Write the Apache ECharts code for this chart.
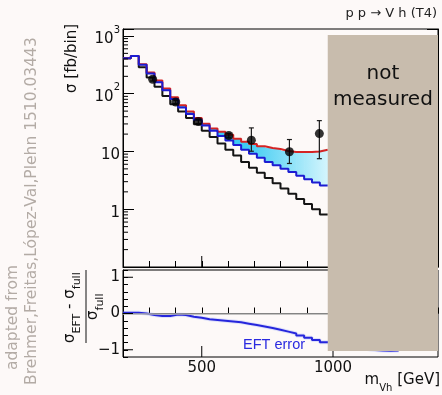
<!DOCTYPE html>
<html>
<head>
<meta charset="utf-8">
<script src="https://cdn.jsdelivr.net/npm/echarts@6/dist/echarts.min.js"></script>
<style>
  html, body { margin: 0; padding: 0; background: #fdf9f8; }
  #chart { width: 442px; height: 395px; }
</style>
</head>
<body>
<div id="chart"></div>
<script>
// bin edges of the upper histograms (GeV)
const binEdges = [200, 230, 260, 290, 320, 350, 380, 410, 440, 470, 500, 530, 560, 590, 620,
  650, 680, 710, 740, 770, 800, 830, 860, 890, 920, 950, 980];
// sigma per bin [fb/bin]
const fullVals = [413, 452, 316, 224, 158, 115, 81, 57.5, 44.7, 35.5, 28.2, 22.9, 18.6, 15.5,
  12.9, 10.7, 9.1, 7.8, 6.6, 5.75, 5.0, 4.4, 3.8, 3.3, 2.9, 2.57];
const upperVals = [413, 452, 324, 234, 170, 123, 87, 63, 49, 38, 30.2, 25.1, 21.9, 19.5,
  16.6, 14.8, 13.5, 12.3, 11.5, 11.0, 10.2, 9.8, 9.8, 9.8, 10.0, 10.7];
const eftVals = [413, 452, 288, 190, 132, 91, 66, 49, 38, 29.5, 22.9, 17.8, 13.8, 10.7,
  8.5, 6.6, 5.25, 4.27, 3.47, 2.82, 2.29, 1.86, 1.51, 1.23, 1.0, 0.81];

// measured points
const dataX = [313, 401, 487, 603, 689, 834, 948];
const dataY = [178, 72, 33, 18.9, 15.7, 9.9, 20.4];
const dataLo = [166, 67, 30.5, 17.2, 10.1, 6.2, 7.5];
const dataHi = [191, 77, 35.5, 20.6, 25.6, 16.1, 34.2];

// ratio panel
const ratioEdges = [200, 230, 260, 290, 320, 350, 380, 410, 440, 470, 500, 530, 560, 590, 620,
  650, 680, 710, 740, 770, 800, 830, 860, 890, 920, 950, 980, 1010, 1040, 1070, 1100, 1130,
  1160, 1190, 1220, 1250];
const ratioVals = [0.02, 0.02, 0.0, -0.04, -0.07, -0.07, -0.03, -0.04, -0.09, -0.12,
  -0.16, -0.18, -0.20, -0.22, -0.24, -0.28, -0.32, -0.36, -0.40, -0.45,
  -0.50, -0.55, -0.61, -0.67, -0.73, -0.79, -0.84, -0.88, -0.92, -0.95,
  -0.98, -1.01, -1.02, -1.03, -1.02];

const xTickLabels = [500, 1000];
const ratioTickLabels = [-1, 0, 1];
const notMeasuredFrom = 980;

const FONT = 'DejaVu Sans';
const bandStops = [
  { offset: 0, color: '#2fbfe9' },
  { offset: 0.6, color: '#3ecbf2' },
  { offset: 0.82, color: '#8ee2f8' },
  { offset: 1, color: '#d4f5fd' }
];

function stepPoints(edges, vals) {
  const pts = vals.map((v, i) => [edges[i], v]);
  pts.push([edges[vals.length], vals[vals.length - 1]]);
  return pts;
}

// log minor ticks 2..9 x 10^n
const minorTicks = [];
[0.1, 1, 10, 100].forEach(d => {
  for (let k = 2; k <= 9; k++) minorTicks.push(k * d);
});

// short tick marks drawn through the axes (dx, dy = direction and length)
function tickSeries(name, xi, yi, points, dx, dy) {
  return {
    name: name, type: 'custom', xAxisIndex: xi, yAxisIndex: yi, z: 8, silent: true,
    encode: { x: 0, y: 1 },
    data: points,
    renderItem: (params, api) => {
      const p = api.coord([api.value(0), api.value(1)]);
      return { type: 'line', shape: { x1: p[0], y1: p[1], x2: p[0] + dx, y2: p[1] + dy }, style: { stroke: '#000', lineWidth: 1 } };
    }
  };
}

const chart = echarts.init(document.getElementById('chart'));

const option = {
  animation: false,
  backgroundColor: '#fdf9f8',
  grid: [
    { left: 123, top: 29, width: 315, height: 238, show: true, borderColor: '#000', borderWidth: 1 },
    { left: 123, top: 270, width: 315, height: 87, show: true, borderColor: '#000', borderWidth: 1 }
  ],
  xAxis: [
    {
      gridIndex: 0, type: 'value', min: 200, max: 1400, interval: 100,
      axisLine: { lineStyle: { color: '#000' } },
      axisTick: { inside: true, length: 6, lineStyle: { color: '#000' } },
      axisLabel: { show: false },
      splitLine: { show: false }
    },
    {
      gridIndex: 1, type: 'value', min: 200, max: 1400, interval: 100,
      axisLine: { lineStyle: { color: '#000' } },
      axisTick: { inside: true, length: 6, lineStyle: { color: '#000' } },
      axisLabel: {
        margin: 4, fontFamily: FONT, fontSize: 15, color: '#111',
        formatter: v => (xTickLabels.indexOf(Math.round(v)) >= 0 ? String(Math.round(v)) : '')
      },
      splitLine: { show: false }
    }
  ],
  yAxis: [
    {
      gridIndex: 0, type: 'log', logBase: 10, min: 0.1, max: 1320,
      axisLine: { lineStyle: { color: '#000' } },
      axisTick: { inside: true, length: 11, lineStyle: { color: '#000' } },
      splitLine: { show: false },
      axisLabel: {
        margin: 3, color: '#111',
        formatter: v => {
          const e = Math.log10(v);
          const n = Math.round(e);
          if (Math.abs(e - n) > 1e-6 || n < 0) return '';
          if (n === 0) return '{b|1}';
          if (n === 1) return '{b|10}';
          return '{b|10}{sup|' + n + '}';
        },
        rich: {
          b: { fontFamily: FONT, fontSize: 15, color: '#111', lineHeight: 22, verticalAlign: 'bottom' },
          sup: { fontFamily: FONT, fontSize: 10, color: '#111', lineHeight: 14, verticalAlign: 'top' }
        }
      }
    },
    {
      gridIndex: 0, type: 'log', logBase: 10, min: 0.1, max: 1320, position: 'right',
      axisLine: { lineStyle: { color: '#000' } },
      axisTick: { inside: true, length: 11, lineStyle: { color: '#000' } },
      axisLabel: { show: false },
      splitLine: { show: false }
    },
    {
      gridIndex: 1, type: 'value', min: -1.2, max: 1.2, interval: 0.2,
      axisLine: { lineStyle: { color: '#000' } },
      axisTick: { inside: true, length: 5, lineStyle: { color: '#000' } },
      splitLine: { show: false },
      axisLabel: {
        margin: 3, fontFamily: FONT, fontSize: 15, color: '#111',
        formatter: v => {
          const n = Math.round(v);
          if (Math.abs(v - n) > 1e-6 || ratioTickLabels.indexOf(n) < 0) return '';
          return n < 0 ? '\u2212' + Math.abs(n) : String(n);
        }
      }
    }
  ],
  series: [
    {
      name: 'band', type: 'custom', xAxisIndex: 0, yAxisIndex: 0, z: 1, silent: true,
      encode: { x: [0, 1], y: [2, 3] },
      data: fullVals.map((v, i) => [binEdges[i], binEdges[i + 1], v, upperVals[i]]),
      renderItem: (params, api) => {
        const lo = api.coord([api.value(0), api.value(2)]);
        const hi = api.coord([api.value(1), api.value(3)]);
        const g0 = api.coord([binEdges[0], 1])[0];
        const g1 = api.coord([binEdges[binEdges.length - 1], 1])[0];
        return {
          type: 'rect',
          shape: { x: lo[0], y: hi[1], width: hi[0] - lo[0] + 0.6, height: lo[1] - hi[1] },
          style: { fill: new echarts.graphic.LinearGradient(g0, 0, g1, 0, bandStops, true) }
        };
      }
    },
    {
      name: 'EFT', type: 'line', xAxisIndex: 0, yAxisIndex: 0, step: 'end', symbol: 'none',
      lineStyle: { color: '#141414', width: 2 }, z: 2,
      data: stepPoints(binEdges, eftVals)
    },
    {
      name: 'upper', type: 'line', xAxisIndex: 0, yAxisIndex: 0, step: 'end', symbol: 'none',
      lineStyle: { color: '#d42424', width: 2 }, z: 3,
      data: stepPoints(binEdges, upperVals)
    },
    {
      name: 'full', type: 'line', xAxisIndex: 0, yAxisIndex: 0, step: 'end', symbol: 'none',
      lineStyle: { color: '#1c1cd2', width: 2 }, z: 4,
      data: stepPoints(binEdges, fullVals)
    },
    {
      name: 'errors', type: 'custom', xAxisIndex: 0, yAxisIndex: 0, z: 6, silent: true,
      encode: { x: 0, y: [1, 2] },
      data: dataX.map((x, i) => [x, dataLo[i], dataHi[i]]),
      renderItem: (params, api) => {
        const x = api.value(0);
        const lo = api.coord([x, api.value(1)]);
        const hi = api.coord([x, api.value(2)]);
        const w = 2.5;
        const st = { stroke: '#1a1a1a', lineWidth: 1.2 };
        return {
          type: 'group', children: [
            { type: 'line', shape: { x1: lo[0], y1: lo[1], x2: hi[0], y2: hi[1] }, style: st },
            { type: 'line', shape: { x1: lo[0] - w, y1: lo[1], x2: lo[0] + w, y2: lo[1] }, style: st },
            { type: 'line', shape: { x1: hi[0] - w, y1: hi[1], x2: hi[0] + w, y2: hi[1] }, style: st }
          ]
        };
      }
    },
    {
      name: 'data', type: 'scatter', xAxisIndex: 0, yAxisIndex: 0, z: 7,
      symbol: 'circle', symbolSize: 9, itemStyle: { color: '#000' },
      data: dataX.map((x, i) => [x, dataY[i]])
    },
    tickSeries('minorTicks', 0, 0, minorTicks.map(v => [200, v]), 5, 0),
    tickSeries('majorXMain', 0, 0, xTickLabels.map(v => [v, 0.1]), 0, -11),
    tickSeries('majorXRatio', 1, 2, xTickLabels.map(v => [v, -1.2]), 0, -11),
    tickSeries('majorYRatio', 1, 2, ratioTickLabels.map(v => [200, v]), 10, 0),
    {
      name: 'ratioBand', type: 'line', xAxisIndex: 1, yAxisIndex: 2, step: 'end', symbol: 'none',
      lineStyle: { color: 'rgba(120,140,255,0.22)', width: 4 }, z: 2, silent: true,
      data: stepPoints(ratioEdges, ratioVals),
      markLine: {
        silent: true, symbol: ['none', 'none'], label: { show: false },
        lineStyle: { color: '#b0b0b0', width: 1.5, type: 'solid' },
        data: [{ yAxis: 0 }]
      }
    },
    {
      name: 'ratio', type: 'line', xAxisIndex: 1, yAxisIndex: 2, step: 'end', symbol: 'none',
      lineStyle: { color: '#2626dc', width: 2 }, z: 3,
      data: stepPoints(ratioEdges, ratioVals)
    }
  ]
};

chart.setOption(option);

const boxLeft = chart.convertToPixel({ xAxisIndex: 0 }, notMeasuredFrom);
const boxRight = 438;
const boxTop = 35;
const boxBottom = 351;

const richSub = {
  s: { fontFamily: FONT, fontSize: 15, fill: '#111', lineHeight: 20, verticalAlign: 'top' },
  sub: { fontFamily: FONT, fontSize: 11, fill: '#111', lineHeight: 12, verticalAlign: 'bottom' }
};

chart.setOption({
  graphic: [
    {
      id: 'proc', type: 'text', x: 437, y: 14, z: 20,
      style: { text: 'p p \u2192 V h (T4)', font: '13px "DejaVu Sans"', fill: '#222', align: 'right', verticalAlign: 'middle' }
    },
    {
      id: 'ytitle', type: 'text', x: 72, y: 93, rotation: Math.PI / 2, z: 20,
      style: { text: '\u03c3 [fb/bin]', font: '15px "DejaVu Sans"', fill: '#111', align: 'left', verticalAlign: 'middle' }
    },
    {
      id: 'num', type: 'text', x: 73, y: 343, rotation: Math.PI / 2, z: 20,
      style: { text: '{s|\u03c3}{sub|EFT}{s| - \u03c3}{sub|full}', align: 'left', verticalAlign: 'middle', rich: richSub }
    },
    {
      id: 'bar', type: 'line', z: 20,
      shape: { x1: 86, y1: 270, x2: 86, y2: 343 }, style: { stroke: '#111', lineWidth: 1 }
    },
    {
      id: 'den', type: 'text', x: 96, y: 320, rotation: Math.PI / 2, z: 20,
      style: { text: '{s|\u03c3}{sub|full}', align: 'left', verticalAlign: 'middle', rich: richSub }
    },
    {
      id: 'credit1', type: 'text', x: 13, y: 370, rotation: Math.PI / 2, z: 20,
      style: { text: 'adapted from', font: '15.5px "DejaVu Sans"', fill: '#b3aba5', align: 'left', verticalAlign: 'middle' }
    },
    {
      id: 'credit2', type: 'text', x: 32, y: 385, rotation: Math.PI / 2, z: 20,
      style: { text: 'Brehmer,Freitas,L\u00f3pez-Val,Plehn 1510.03443', font: '15.5px "DejaVu Sans"', fill: '#b3aba5', align: 'left', verticalAlign: 'middle' }
    },
    {
      id: 'xtitle', type: 'text', x: 440, y: 383, z: 20,
      style: {
        text: '{s|m}{sub|Vh}{s| [GeV]}', align: 'right', verticalAlign: 'middle',
        rich: {
          s: { fontFamily: FONT, fontSize: 15, fill: '#111', lineHeight: 20, verticalAlign: 'top' },
          sub: { fontFamily: FONT, fontSize: 10, fill: '#111', lineHeight: 12, verticalAlign: 'bottom' }
        }
      }
    },
    {
      id: 'eftlabel', type: 'text', x: 243, y: 345, z: 20,
      style: { text: 'EFT error', font: '14.5px "Liberation Sans"', fill: '#2a2ae0', align: 'left', verticalAlign: 'middle' }
    },
    {
      id: 'box', type: 'rect', z: 30,
      shape: { x: boxLeft, y: boxTop, width: boxRight - boxLeft, height: boxBottom - boxTop },
      style: { fill: '#c8bcad' }
    },
    {
      id: 'boxtext', type: 'text', x: (boxLeft + boxRight) / 2, y: 87, z: 31,
      style: { text: 'not\nmeasured', font: '20px "DejaVu Sans"', lineHeight: 26, fill: '#111', align: 'center', verticalAlign: 'middle' }
    }
  ]
});
</script>
</body>
</html>
